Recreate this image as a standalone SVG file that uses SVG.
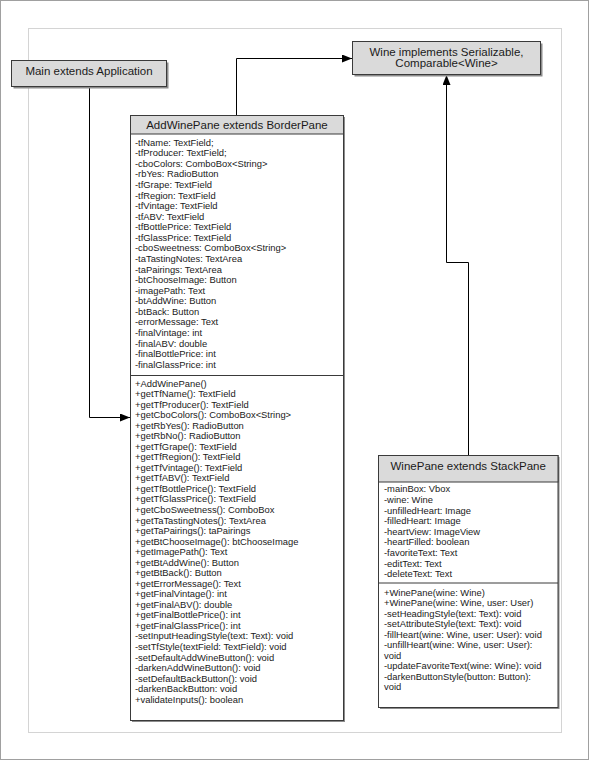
<svg xmlns="http://www.w3.org/2000/svg" width="590" height="761" viewBox="0 0 590 761">
<style>
.bg{fill:#ffffff}
.outer{fill:none;stroke:#a0a0a0;stroke-width:1}
.frame{fill:none;stroke:#d4d4d4;stroke-width:1}
.shadow{fill:#8c8c8c}
.box{fill:#ffffff;stroke:#3a3a3a;stroke-width:1}
.head{fill:#dadada;stroke:#3a3a3a;stroke-width:1}
.div{stroke:#3a3a3a;stroke-width:1}
.title{font-family:"Liberation Sans",Arial,sans-serif;font-size:11.5px;fill:#1a1a1a;text-anchor:middle}
.body{font-family:"Liberation Sans",Arial,sans-serif;font-size:9.4px;fill:#1a1a1a}
.conn{fill:none;stroke:#000000;stroke-width:1}
</style>
<defs>
<marker id="arrow" viewBox="0 0 10 8" refX="10" refY="4" markerWidth="10" markerHeight="8" orient="auto" markerUnits="userSpaceOnUse">
<path d="M0,0 L10,4 L0,8 Z" fill="#000000"/>
</marker>
</defs>
<rect class="bg" x="0" y="0" width="590" height="761"/>
<rect class="outer" x="0.5" y="0.5" width="588" height="759"/>
<rect class="frame" x="28.5" y="28.5" width="533" height="704"/>

<g id="connectors">
<path class="conn" d="M89.5,87 V417.5 H130" marker-end="url(#arrow)"/>
<path class="conn" d="M236.5,115 V58.5 H352" marker-end="url(#arrow)"/>
<path class="conn" d="M468.5,455 V262.5 H446.5 V75" marker-end="url(#arrow)"/>
</g>

<g id="main">
<rect class="shadow" x="13.5" y="62.5" width="155" height="26"/>
<rect class="head" x="11.5" y="60.5" width="155" height="26"/>
<text class="title" x="89" y="75">Main extends Application</text>
</g>

<g id="wine">
<rect class="shadow" x="354.5" y="43.5" width="188" height="33"/>
<rect class="head" x="352.5" y="41.5" width="188" height="33"/>
<text class="title" x="446.5" y="55.5">Wine implements Serializable,</text>
<text class="title" x="446.5" y="67">Comparable&lt;Wine&gt;</text>
</g>

<g id="addwinepane">
<rect class="shadow" x="132" y="117" width="213" height="605"/>
<rect class="box" x="130.5" y="115.5" width="213" height="605"/>
<rect class="head" x="130.5" y="115.5" width="213" height="18.5"/>
<line class="div" x1="130.5" y1="375.5" x2="343.5" y2="375.5"/>
<text class="title" x="237" y="128.5">AddWinePane extends BorderPane</text>
<text class="body" x="135">
<tspan x="135" y="145.7">-tfName: TextField;</tspan>
<tspan x="135" y="156.27">-tfProducer: TextField;</tspan>
<tspan x="135" y="166.84">-cboColors: ComboBox&lt;String&gt;</tspan>
<tspan x="135" y="177.41">-rbYes: RadioButton</tspan>
<tspan x="135" y="187.98">-tfGrape: TextField</tspan>
<tspan x="135" y="198.55">-tfRegion: TextField</tspan>
<tspan x="135" y="209.12">-tfVintage: TextField</tspan>
<tspan x="135" y="219.69">-tfABV: TextField</tspan>
<tspan x="135" y="230.26">-tfBottlePrice: TextField</tspan>
<tspan x="135" y="240.83">-tfGlassPrice: TextField</tspan>
<tspan x="135" y="251.4">-cboSweetness: ComboBox&lt;String&gt;</tspan>
<tspan x="135" y="261.97">-taTastingNotes: TextArea</tspan>
<tspan x="135" y="272.54">-taPairings: TextArea</tspan>
<tspan x="135" y="283.11">-btChooseImage: Button</tspan>
<tspan x="135" y="293.68">-imagePath: Text</tspan>
<tspan x="135" y="304.25">-btAddWine: Button</tspan>
<tspan x="135" y="314.82">-btBack: Button</tspan>
<tspan x="135" y="325.39">-errorMessage: Text</tspan>
<tspan x="135" y="335.96">-finalVintage: int</tspan>
<tspan x="135" y="346.53">-finalABV: double</tspan>
<tspan x="135" y="357.1">-finalBottlePrice: int</tspan>
<tspan x="135" y="367.67">-finalGlassPrice: int</tspan>
</text>
<text class="body" x="135">
<tspan x="135" y="386.5">+AddWinePane()</tspan>
<tspan x="135" y="397.04">+getTfName(): TextField</tspan>
<tspan x="135" y="407.58">+getTfProducer(): TextField</tspan>
<tspan x="135" y="418.12">+getCboColors(): ComboBox&lt;String&gt;</tspan>
<tspan x="135" y="428.66">+getRbYes(): RadioButton</tspan>
<tspan x="135" y="439.2">+getRbNo(): RadioButton</tspan>
<tspan x="135" y="449.74">+getTfGrape(): TextField</tspan>
<tspan x="135" y="460.28">+getTfRegion(): TextField</tspan>
<tspan x="135" y="470.82">+getTfVintage(): TextField</tspan>
<tspan x="135" y="481.36">+getTfABV(): TextField</tspan>
<tspan x="135" y="491.9">+getTfBottlePrice(): TextField</tspan>
<tspan x="135" y="502.44">+getTfGlassPrice(): TextField</tspan>
<tspan x="135" y="512.98">+getCboSweetness(): ComboBox</tspan>
<tspan x="135" y="523.52">+getTaTastingNotes(): TextArea</tspan>
<tspan x="135" y="534.06">+getTaPairings(): taPairings</tspan>
<tspan x="135" y="544.6">+getBtChooseImage(): btChooseImage</tspan>
<tspan x="135" y="555.14">+getImagePath(): Text</tspan>
<tspan x="135" y="565.68">+getBtAddWine(): Button</tspan>
<tspan x="135" y="576.22">+getBtBack(): Button</tspan>
<tspan x="135" y="586.76">+getErrorMessage(): Text</tspan>
<tspan x="135" y="597.3">+getFinalVintage(): int</tspan>
<tspan x="135" y="607.84">+getFinalABV(): double</tspan>
<tspan x="135" y="618.38">+getFinalBottlePrice(): int</tspan>
<tspan x="135" y="628.92">+getFinalGlassPrice(): int</tspan>
<tspan x="135" y="639.46">-setInputHeadingStyle(text: Text): void</tspan>
<tspan x="135" y="650">-setTfStyle(textField: TextField): void</tspan>
<tspan x="135" y="660.54">-setDefaultAddWineButton(): void</tspan>
<tspan x="135" y="671.08">-darkenAddWineButton(): void</tspan>
<tspan x="135" y="681.62">-setDefaultBackButton(): void</tspan>
<tspan x="135" y="692.16">-darkenBackButton: void</tspan>
<tspan x="135" y="702.7">+validateInputs(): boolean</tspan>
</text>
</g>

<g id="winepane">
<rect class="shadow" x="380" y="457" width="179.5" height="252"/>
<rect class="box" x="378.5" y="455.5" width="179.5" height="252"/>
<rect class="head" x="378.5" y="455.5" width="179.5" height="26.5"/>
<line class="div" x1="378.5" y1="583" x2="558" y2="583"/>
<text class="title" x="468.2" y="470">WinePane extends StackPane</text>
<text class="body" x="384">
<tspan x="384" y="492.3">-mainBox: Vbox</tspan>
<tspan x="384" y="502.9">-wine: Wine</tspan>
<tspan x="384" y="513.5">-unfilledHeart: Image</tspan>
<tspan x="384" y="524.1">-filledHeart: Image</tspan>
<tspan x="384" y="534.7">-heartView: ImageView</tspan>
<tspan x="384" y="545.3">-heartFilled: boolean</tspan>
<tspan x="384" y="555.9">-favoriteText: Text</tspan>
<tspan x="384" y="566.5">-editText: Text</tspan>
<tspan x="384" y="577.1">-deleteText: Text</tspan>
</text>
<text class="body" x="384">
<tspan x="384" y="596">+WinePane(wine: Wine)</tspan>
<tspan x="384" y="606.45">+WinePane(wine: Wine, user: User)</tspan>
<tspan x="384" y="616.9">-setHeadingStyle(text: Text): void</tspan>
<tspan x="384" y="627.35">-setAttributeStyle(text: Text): void</tspan>
<tspan x="384" y="637.8">-fillHeart(wine: Wine, user: User): void</tspan>
<tspan x="384" y="648.25">-unfillHeart(wine: Wine, user: User):</tspan>
<tspan x="384" y="658.7">void</tspan>
<tspan x="384" y="669.15">-updateFavoriteText(wine: Wine): void</tspan>
<tspan x="384" y="679.6">-darkenButtonStyle(button: Button):</tspan>
<tspan x="384" y="690.05">void</tspan>
</text>
</g>
</svg>
